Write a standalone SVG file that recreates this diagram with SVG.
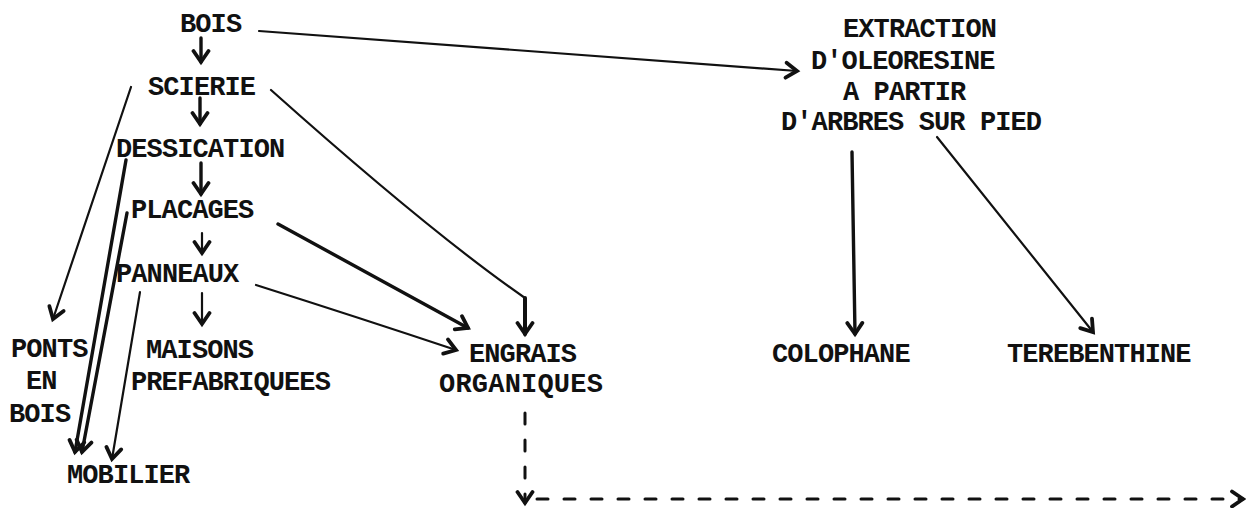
<svg xmlns="http://www.w3.org/2000/svg" width="1246" height="508" viewBox="0 0 1246 508">
  <style>
    text { font-family: "Liberation Mono", "DejaVu Sans Mono", monospace; font-size: 27px; letter-spacing: -0.9px; font-weight: bold; fill: #111; }
    .ln { fill: none; stroke: #111; stroke-width: 2.2; stroke-linecap: round; stroke-linejoin: round; }
    .hv { stroke-width: 3.4; }
    .dash { stroke-width: 3; stroke-dasharray: 11 16; }
  </style>
  <defs>
    <!-- open chevron arrowhead, drawn heavy like a typewritten chart -->
    <marker id="head" markerUnits="userSpaceOnUse" viewBox="-14 -10 18 20" refX="0" refY="0" markerWidth="18" markerHeight="20" orient="auto">
      <path d="M-11,-7.5 L0,0 L-11,7.5" fill="none" stroke="#111" stroke-width="3.8" stroke-linecap="round" stroke-linejoin="miter"/>
    </marker>
  </defs>

  <!-- connectors -->
  <g id="connectors">
    <!-- main chain -->
    <path class="ln hv" d="M201,38 V62" marker-end="url(#head)"/>
    <path class="ln hv" d="M200,98 V124" marker-end="url(#head)"/>
    <path class="ln hv" d="M201,163 V194" marker-end="url(#head)"/>
    <path class="ln" d="M202,233 V253" marker-end="url(#head)"/>
    <path class="ln" d="M202,293 V324" marker-end="url(#head)"/>
    <!-- BOIS to extraction -->
    <path class="ln" d="M259,31 L797,71" marker-end="url(#head)"/>
    <!-- SCIERIE to engrais -->
    <path class="ln" d="M271,90 Q430,232 525,298"/>
    <path class="ln" style="stroke-width:4" d="M525,298 V334" marker-end="url(#head)"/>
    <!-- PLACAGES / PANNEAUX to engrais -->
    <path class="ln hv" d="M278,224 L468,328" marker-end="url(#head)"/>
    <path class="ln" d="M256,285 Q360,318 456,350" marker-end="url(#head)"/>
    <!-- left branches -->
    <path class="ln" d="M131,87 L53,319" marker-end="url(#head)"/>
    <path class="ln hv" d="M126,160 L75,452" marker-end="url(#head)"/>
    <path class="ln hv" d="M127,213 L82,452" marker-end="url(#head)"/>
    <path class="ln" d="M140,292 L112,459" marker-end="url(#head)"/>
    <!-- extraction products -->
    <path class="ln hv" d="M852,152 L855,334" marker-end="url(#head)"/>
    <path class="ln" d="M937,137 L1093,332" marker-end="url(#head)"/>
    <!-- dashed outputs -->
    <path class="ln dash" d="M525,413 V503" marker-end="url(#head)"/>
    <path class="ln dash" d="M537,499 H1243" marker-end="url(#head)"/>
  </g>

  <g id="n-bois"><text x="180" y="32">BOIS</text></g>
  <g id="n-scierie"><text x="148" y="95">SCIERIE</text></g>
  <g id="n-dessication"><text x="116" y="157">DESSICATION</text></g>
  <g id="n-placages"><text x="131" y="218">PLACAGES</text></g>
  <g id="n-panneaux"><text x="116" y="282">PANNEAUX</text></g>
  <g id="n-maisons"><text x="146" y="358">MAISONS</text><text x="131" y="390">PREFABRIQUEES</text></g>
  <g id="n-ponts"><text x="11" y="357">PONTS</text><text x="26" y="389">EN</text><text x="9" y="422">BOIS</text></g>
  <g id="n-mobilier"><text x="67" y="483">MOBILIER</text></g>
  <g id="n-engrais"><text x="469" y="362">ENGRAIS</text><text x="439" y="392" textLength="163">ORGANIQUES</text></g>
  <g id="n-extraction">
    <text x="843" y="37">EXTRACTION</text>
    <text x="811" y="69">D'OLEORESINE</text>
    <text x="843" y="100">A PARTIR</text>
    <text x="781" y="130">D'ARBRES SUR PIED</text>
  </g>
  <g id="n-colophane"><text x="772" y="362">COLOPHANE</text></g>
  <g id="n-terebenthine"><text x="1007" y="362">TEREBENTHINE</text></g>
</svg>
